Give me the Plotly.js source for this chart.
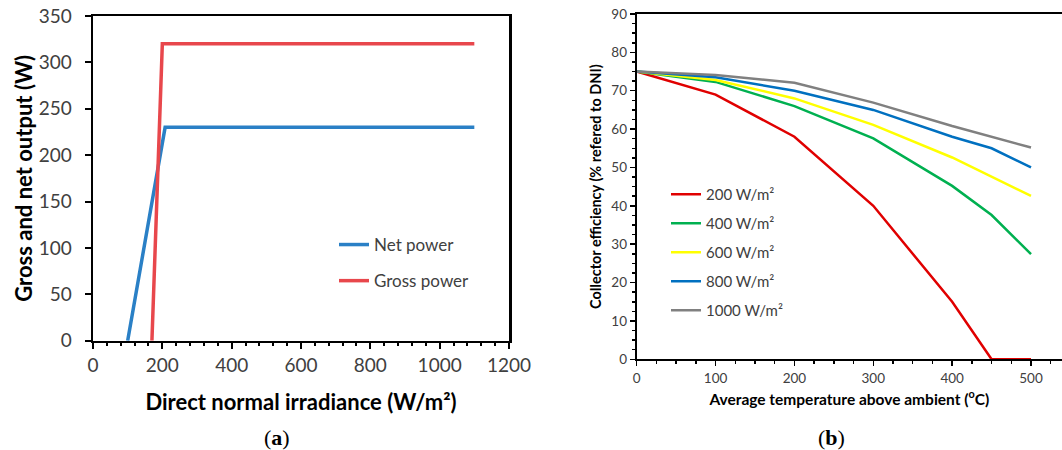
<!DOCTYPE html>
<html>
<head>
<meta charset="utf-8">
<script src="https://cdn.plot.ly/plotly-3.0.1.min.js"></script>
<style>html,body{margin:0;padding:0;background:#fff;}#chart{width:1062px;height:450px;}</style>
</head>
<body>
<div id="chart"></div>
<script>
// ---- Panel (a) data ----
const netIrradiance = [100, 208, 1100];
const netPower = [0, 230, 230];
const grossIrradiance = [170, 200, 1100];
const grossPower = [0, 320, 320];

// ---- Panel (b) data ----
const temperature = [0, 100, 200, 300, 400, 450, 500];
const eff200 = [75, 69, 58, 40, 15, 0, 0];
const eff400 = [75, 72.3, 66, 57.6, 45.2, 37.6, 27.4];
const eff600 = [75, 72.8, 68, 61.1, 52.6, 47.6, 42.6];
const eff800 = [75, 73.5, 70, 65, 58, 55, 50];
const eff1000 = [75, 74.1, 72.1, 66.9, 60.8, 58, 55.2];
const seriesNames = ['200 W/m²', '400 W/m²', '600 W/m²', '800 W/m²', '1000 W/m²'];
const seriesColors = ['#e00000', '#00b050', '#ffff00', '#0070c0', '#808080'];
const effSeries = [eff200, eff400, eff600, eff800, eff1000];

const W = 1062, H = 450;
const px = v => v / W;
const py = v => (H - v) / H;

const FONT = 'Lato, "Open Sans", sans-serif';

const traces = [
  {x: netIrradiance, y: netPower, name: 'Net power', mode: 'lines', xaxis: 'x', yaxis: 'y',
   line: {color: '#2a80c6', width: 3.5}, legend: 'legend', legendgroup: 'a1'},
  {x: grossIrradiance, y: grossPower, name: 'Gross power', mode: 'lines', xaxis: 'x', yaxis: 'y',
   line: {color: '#e8474c', width: 3.5}, legend: 'legend', legendgroup: 'a2'}
];
effSeries.forEach((s, i) => {
  traces.push({x: temperature, y: s, name: seriesNames[i], mode: 'lines', xaxis: 'x2', yaxis: 'y2',
    line: {color: seriesColors[i], width: 2.5}, legend: 'legend2', legendgroup: 'b' + i});
});

const layout = {
  width: W, height: H,
  margin: {l: 0, r: 0, t: 0, b: 0, autoexpand: false},
  paper_bgcolor: '#fff', plot_bgcolor: '#fff',
  font: {family: FONT, color: '#404040'},
  showlegend: true,
  xaxis: {
    domain: [px(93), px(509)], anchor: 'y', range: [0, 1200], tick0: 0, dtick: 200,
    showgrid: false, zeroline: false, showline: true, linecolor: '#000', linewidth: 2.5, mirror: true,
    ticks: 'outside', ticklen: 6, tickwidth: 2, tickcolor: '#000', automargin: true,
    minor: {dtick: 40, ticks: 'outside', ticklen: 3, tickwidth: 2, tickcolor: '#000', showgrid: false},
    tickfont: {size: 19, color: '#404040', family: FONT},
    title: {text: '<b>Direct normal irradiance (W/m²)</b>', font: {size: 22, color: '#000', family: FONT}, standoff: 20},
    fixedrange: true
  },
  yaxis: {
    domain: [py(340.7), py(16)], anchor: 'x', range: [0, 350], tick0: 0, dtick: 50,
    showgrid: false, zeroline: false, showline: true, linecolor: '#000', linewidth: 2.5, mirror: true,
    ticks: 'outside', ticklen: 6, tickwidth: 2, tickcolor: '#000', ticklabelstandoff: 9, automargin: true,
    tickfont: {size: 19, color: '#404040', family: FONT},
    title: {text: '<b>Gross and net output (W)</b>', font: {size: 22, color: '#000', family: FONT}, standoff: 0},
    fixedrange: true
  },
  xaxis2: {
    domain: [px(636.7), 1], anchor: 'y2', range: [0, 539.3], tick0: 0, dtick: 100,
    showgrid: false, zeroline: false, showline: true, linecolor: '#000', linewidth: 2, mirror: true,
    ticks: 'outside', ticklen: 5, tickwidth: 1.5, tickcolor: '#000', automargin: true,
    minor: {dtick: 25, ticks: 'outside', ticklen: 3, tickwidth: 1.5, tickcolor: '#000', showgrid: false},
    tickfont: {size: 13.5, color: '#404040', family: FONT},
    title: {text: '<b>Average temperature above ambient (<sup>o</sup>C)</b>', font: {size: 15.5, color: '#000', family: FONT}, standoff: 9.5},
    fixedrange: true
  },
  yaxis2: {
    domain: [py(359.3), py(14)], anchor: 'x2', range: [0, 90], tick0: 0, dtick: 10,
    showgrid: false, zeroline: false, showline: true, linecolor: '#000', linewidth: 2, mirror: false,
    ticks: 'outside', ticklen: 5, tickwidth: 1.5, tickcolor: '#000', automargin: true,
    minor: {dtick: 2.5, ticks: 'outside', ticklen: 3, tickwidth: 1.5, tickcolor: '#000', showgrid: false},
    tickfont: {size: 13.5, color: '#404040', family: FONT},
    title: {text: '<b>Collector efficiency (% refered to DNI)</b>', font: {size: 14.5, color: '#000', family: FONT}, standoff: 6},
    fixedrange: true
  },
  legend: {
    x: px(334), y: py(227), xanchor: 'left', yanchor: 'top',
    bgcolor: 'rgba(0,0,0,0)', borderwidth: 0,
    font: {size: 17, color: '#404040', family: FONT},
    tracegroupgap: 11, itemclick: false, itemdoubleclick: false
  },
  legend2: {
    x: px(666), y: py(178), xanchor: 'left', yanchor: 'top',
    bgcolor: 'rgba(0,0,0,0)', borderwidth: 0,
    font: {size: 15, color: '#404040', family: FONT},
    tracegroupgap: 6.5, itemclick: false, itemdoubleclick: false
  },
  annotations: [
    {text: '(<b>a</b>)', x: px(277), y: py(437), xref: 'paper', yref: 'paper', showarrow: false,
     xanchor: 'center', yanchor: 'middle', font: {size: 22, color: '#000', family: '"Liberation Serif", "DejaVu Serif", serif'}},
    {text: '(<b>b</b>)', x: px(831), y: py(437), xref: 'paper', yref: 'paper', showarrow: false,
     xanchor: 'center', yanchor: 'middle', font: {size: 22, color: '#000', family: '"Liberation Serif", "DejaVu Serif", serif'}}
  ]
};

Plotly.newPlot('chart', traces, layout, {displayModeBar: false, staticPlot: true});
</script>
</body>
</html>
